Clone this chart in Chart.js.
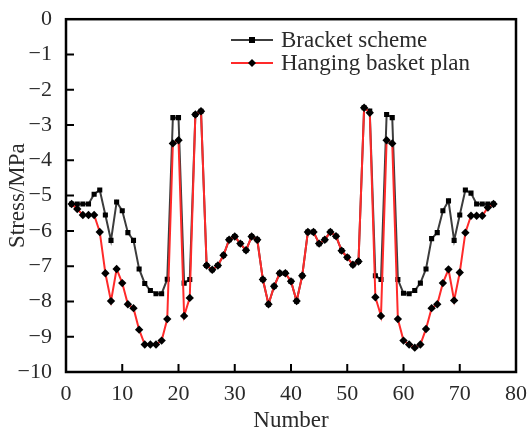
<!DOCTYPE html>
<html>
<head>
<meta charset="utf-8">
<script src="https://cdn.jsdelivr.net/npm/chart.js@4"></script>
<style>
  html, body { margin: 0; padding: 0; background: #fff; }
  #chart { display: block; }
</style>
</head>
<body>
<canvas id="chart" width="528" height="436"></canvas>
<script>
// point numbers along the x axis
const numbers = [
  1, 2, 3, 4, 5, 6, 7, 8, 9, 10, 11, 12, 13, 14, 15, 16, 17, 18, 19, 20,
  21, 22, 23, 24, 25, 26, 27, 28, 29, 30, 31, 32, 33, 34, 35, 36, 37, 38, 39, 40,
  41, 42, 43, 44, 45, 46, 47, 48, 49, 50, 51, 52, 53, 54, 55, 56, 57, 58, 59, 60,
  61, 62, 63, 64, 65, 66, 67, 68, 69, 70, 71, 72, 73, 74, 75, 76
];

// stress, MPa
const bracketScheme = [
  -5.24, -5.24, -5.24, -5.24, -4.96, -4.84, -5.55, -6.27, -5.18, -5.43,
  -6.05, -6.27, -7.08, -7.49, -7.69, -7.78, -7.78, -7.37, -2.79, -2.79,
  -7.48, -7.38, -2.70, -2.61, -6.98, -7.10, -6.98, -6.69, -6.25, -6.16,
  -6.36, -6.55, -6.16, -6.25, -7.38, -8.08, -7.57, -7.20, -7.20, -7.43,
  -7.99, -7.27, -6.03, -6.03, -6.36, -6.25, -6.03, -6.15, -6.56, -6.75,
  -6.96, -6.87, -2.51, -2.60, -7.27, -7.38, -2.70, -2.79, -7.38, -7.77,
  -7.78, -7.69, -7.48, -7.08, -6.22, -6.05, -5.43, -5.15, -6.27, -5.55,
  -4.84, -4.93, -5.24, -5.24, -5.24, -5.24
];

const hangingBasket = [
  -5.24, -5.38, -5.55, -5.55, -5.55, -6.03, -7.20, -7.99, -7.08, -7.48,
  -8.08, -8.19, -8.80, -9.22, -9.22, -9.22, -9.11, -8.50, -3.52, -3.43,
  -8.41, -7.90, -2.70, -2.61, -6.98, -7.10, -6.98, -6.69, -6.25, -6.16,
  -6.36, -6.55, -6.16, -6.25, -7.38, -8.08, -7.57, -7.20, -7.20, -7.43,
  -7.99, -7.27, -6.03, -6.03, -6.36, -6.25, -6.03, -6.15, -6.56, -6.75,
  -6.96, -6.87, -2.51, -2.65, -7.88, -8.41, -3.43, -3.52, -8.50, -9.11,
  -9.22, -9.31, -9.22, -8.78, -8.19, -8.08, -7.48, -7.09, -7.97, -7.18,
  -6.05, -5.57, -5.57, -5.57, -5.34, -5.24
];

const xTicks = [0, 10, 20, 30, 40, 50, 60, 70, 80];
const yTicks = [0, -1, -2, -3, -4, -5, -6, -7, -8, -9, -10];

const FONT = "'Liberation Serif', 'DejaVu Serif', serif";
const TEXT = '#2a2a2a';
const toPoints = (vals) => vals.map((v, i) => ({ x: numbers[i], y: v }));

// frame, inward ticks and in-plot legend
const framePlugin = {
  id: 'frame',
  afterDraw(chart) {
    const { ctx, chartArea: a, scales: { x, y } } = chart;
    ctx.save();
    ctx.strokeStyle = '#000';
    ctx.lineWidth = 2.5;
    ctx.strokeRect(a.left, a.top, a.right - a.left, a.bottom - a.top);
    ctx.lineWidth = 2;
    ctx.beginPath();
    for (const v of yTicks.slice(1, -1)) {
      const py = y.getPixelForValue(v);
      ctx.moveTo(a.left, py); ctx.lineTo(a.left + 8, py);
    }
    for (const v of xTicks.slice(1, -1)) {
      const px = x.getPixelForValue(v);
      ctx.moveTo(px, a.bottom); ctx.lineTo(px, a.bottom - 8);
    }
    ctx.stroke();

    // legend
    const items = chart.data.datasets.slice().sort((p, q) => q.order - p.order);
    items.forEach((ds, i) => {
      const ly = 40 + i * 23;
      ctx.strokeStyle = ds.borderColor;
      ctx.lineWidth = ds.borderWidth;
      ctx.beginPath(); ctx.moveTo(231, ly); ctx.lineTo(273, ly); ctx.stroke();
      ctx.fillStyle = '#000';
      ctx.beginPath();
      if (ds.pointStyle === 'rect') {
        ctx.rect(252 - 3, ly - 3, 6, 6);
      } else {
        ctx.moveTo(252, ly - 4); ctx.lineTo(256, ly); ctx.lineTo(252, ly + 4); ctx.lineTo(248, ly);
        ctx.closePath();
      }
      ctx.fill();
      ctx.fillStyle = TEXT;
      ctx.font = '23px ' + FONT;
      ctx.textBaseline = 'middle';
      ctx.fillText(ds.label, 281, ly + 1);
    });
    ctx.restore();
  }
};

new Chart(document.getElementById('chart'), {
  type: 'line',
  data: {
    datasets: [
      {
        label: 'Bracket scheme', data: toPoints(bracketScheme), order: 1,
        borderColor: '#3c3c3c', borderWidth: 2, pointStyle: 'rect', pointRadius: 3.6,
        pointBackgroundColor: '#000', pointBorderColor: '#000', pointBorderWidth: 0, tension: 0,
      },
      {
        label: 'Hanging basket plan', data: toPoints(hangingBasket), order: 0,
        borderColor: '#ff2a2a', borderWidth: 2, pointStyle: 'rectRot', pointRadius: 4.2,
        pointBackgroundColor: '#000', pointBorderColor: '#000', pointBorderWidth: 0, tension: 0,
      },
    ],
  },
  options: {
    responsive: false,
    animation: false,
    devicePixelRatio: 1,
    layout: { padding: { top: 14, right: 7, left: 0, bottom: 0 } },
    plugins: { legend: { display: false }, tooltip: { enabled: false } },
    scales: {
      x: {
        type: 'linear', min: 0, max: 80,
        afterBuildTicks: (s) => { s.ticks = xTicks.map(v => ({ value: v })); },
        afterFit: (s) => { s.height = 64; },
        grid: { display: false }, border: { display: false },
        ticks: { color: TEXT, padding: 1, maxRotation: 0, font: { family: FONT, size: 22 } },
        title: { display: true, text: 'Number', color: TEXT, padding: { top: 0, bottom: 1 }, font: { family: FONT, size: 23 } },
      },
      y: {
        type: 'linear', min: -10, max: 0,
        afterBuildTicks: (s) => { s.ticks = yTicks.map(v => ({ value: v })); },
        afterFit: (s) => { s.width = 66; },
        grid: { display: false }, border: { display: false },
        ticks: {
          color: TEXT, padding: 6, font: { family: FONT, size: 22 },
          callback: (v) => String(v).replace('-', '\u2212'),
        },
        title: { display: true, text: 'Stress/MPa', color: TEXT, padding: { top: 4, bottom: 0 }, font: { family: FONT, size: 23 } },
      },
    },
  },
  plugins: [framePlugin],
});
</script>
</body>
</html>
